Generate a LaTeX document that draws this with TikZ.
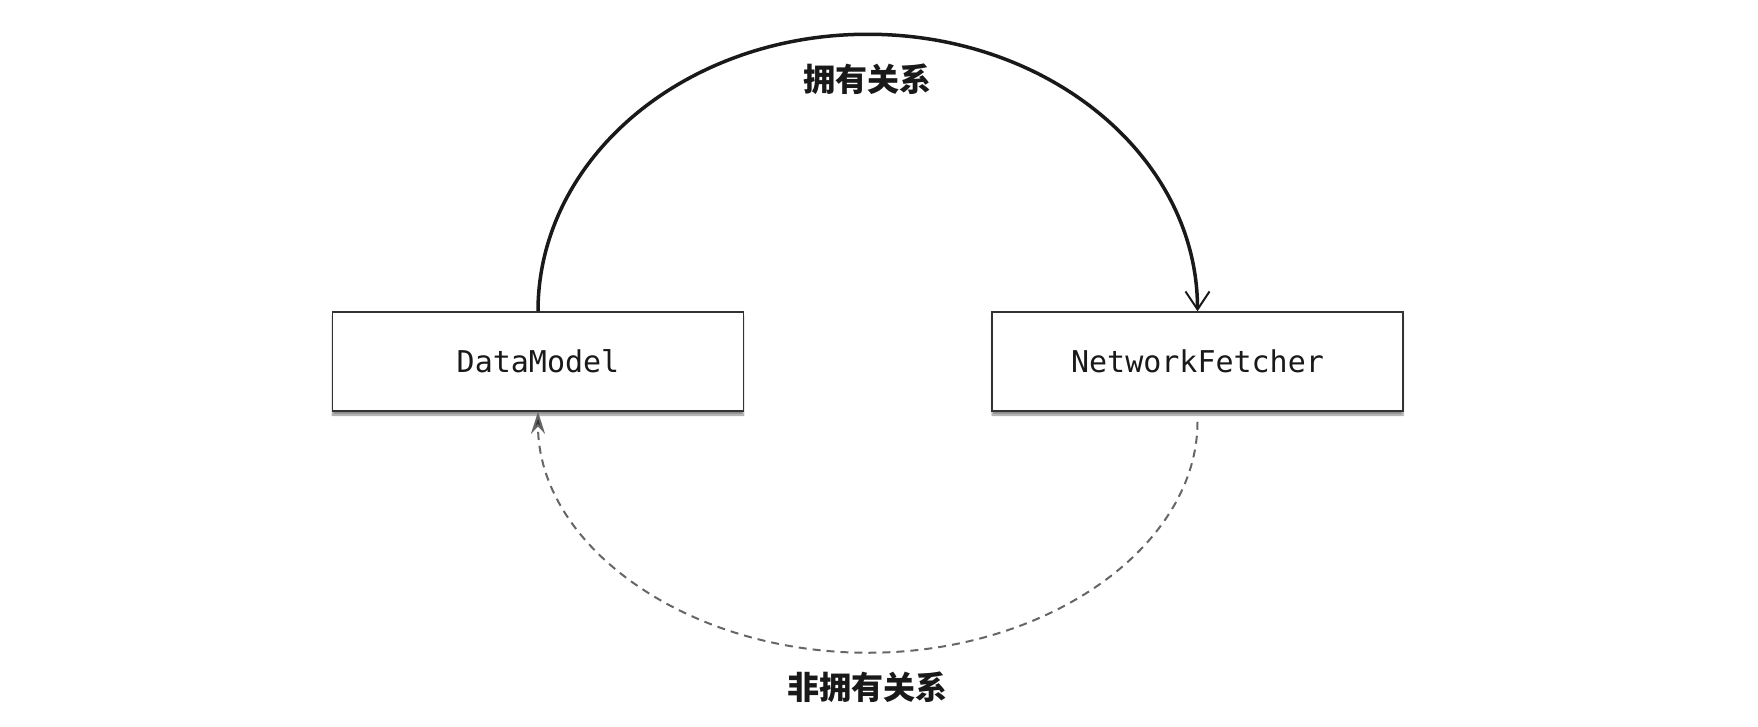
\documentclass[tikz,border=0pt]{standalone}
\usepackage{fontspec}
\setmonofont{DejaVu Sans Mono}
\newfontfamily\cjk{Noto Sans CJK SC}
\usetikzlibrary{arrows.meta,calc,positioning,shadows.blur}
\tikzstyle{clase}=[
	rectangle,
	draw=black!80,
	line width=1.5pt,
	fill=white,
	minimum width=411pt,
	minimum height=99pt,
	font=\fontsize{30}{36}\selectfont\ttfamily,
	text=black!90,
	blur shadow={shadow xshift=0pt,shadow yshift=-4pt,shadow blur steps=6,shadow opacity=45}]
\tikzstyle{etiqueta}=[
	inner sep=0pt,
	text=black!90,
	font=\fontsize{32}{38}\selectfont\cjk\bfseries]
\tikzstyle{propia}=[
	draw=black!90,
	line width=3.5pt,
	-{Straight Barb[length=18pt,width=24pt,line width=2pt]}]
\tikzstyle{ajena}=[
	draw=black!60,
	line width=2pt,
	dash pattern=on 8pt off 6pt,
	-{Stealth[length=22pt,width=14pt,fill=black!80]}]

\begin{document}
\begin{tikzpicture}[x=1pt,y=-1pt]
	\useasboundingbox (0,0) rectangle (1758,726);
	\node[clase]	(model)	at (538,361.5)	{DataModel};
	\node[clase]	(fetcher)	[right=247pt of model]	{NetworkFetcher};
	\coordinate (cima)	at ($(model.north)!0.5!(fetcher.north)+(0,-277)$);
	\coordinate (fondo)	at ($(model.south)!0.5!(fetcher.south)+(0,241)$);
	\node[etiqueta]	(owns)	[below=29pt of cima]	{拥有关系};
	\node[etiqueta]	(weak)	[below=19pt of fondo]	{非拥有关系};
	\draw[propia]	(model.north) .. controls +(0,-153) and +(-183,0) .. (cima)
		.. controls +(183,0) and +(0,-153) .. (fetcher.north);
	\draw[ajena,shorten <=10pt]	(fetcher.south) .. controls +(0,133) and +(182,0) .. (fondo)
		.. controls +(-182,0) and +(0,133) .. (model.south);
\end{tikzpicture}
\end{document}
